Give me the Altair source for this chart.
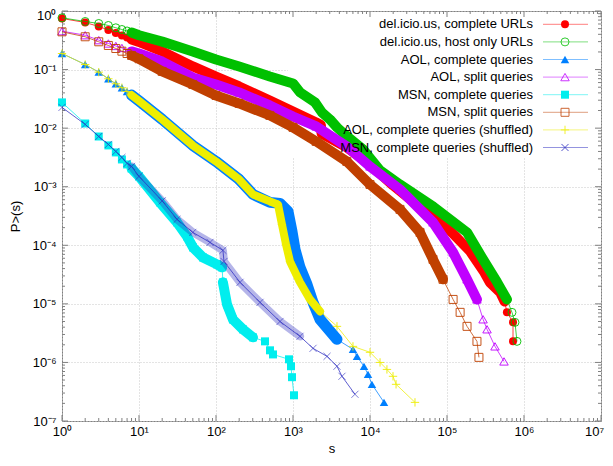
import altair as alt
import pandas as pd

names = [
    "del.icio.us, complete URLs",
    "del.icio.us, host only URLs",
    "AOL, complete queries",
    "AOL, split queries",
    "MSN, complete queries",
    "MSN, split queries",
    "AOL, complete queries (shuffled)",
    "MSN, complete queries (shuffled)",
]
colors = ["#ff0000", "#00c000", "#0080ff", "#c000ff", "#00eeee", "#c04000", "#eeee00", "#2a2ac0"]

# del.icio.us, complete URLs
red_s = [1, 2, 3, 4, 5, 6, 7, 8, 10, 20, 50, 100, 200, 500, 1000, 2000, 2300, 2350, 5000, 1e4, 2e4,
         5e4, 1e5, 2e5, 3e5, 3.6e5, 4.9e5, 5.6e5, 6.0e5, 7.2e5, 7.2e5]
red_p = [0.745, 0.637, 0.544, 0.474, 0.421, 0.382, 0.353, 0.326, 0.296, 0.204, 0.113, 0.0762, 0.0515,
         0.0297, 0.0193, 0.0125, 0.01135, 0.0081, 0.00468, 0.0024, 0.00105, 3.94e-4, 2.02e-4, 7.87e-5,
         3.59e-5, 2.33e-5, 1.57e-5, 1.1e-5, 7.2e-6, 4.83e-6, 2.29e-6]
# del.icio.us, host only URLs
green_s = [1, 2, 3, 4, 5, 6, 7, 8, 10, 20, 50, 100, 200, 500, 1000, 1236, 1932, 2380, 3020, 3730, 5040,
           8110, 1.35e4, 2.45e4, 6.58e4, 1.82e5, 2.94e5, 4.47e5, 6.01e5, 6.98e5, 7.64e5, 8.1e5]
green_p = [0.765, 0.662, 0.612, 0.566, 0.517, 0.483, 0.456, 0.43, 0.385, 0.30, 0.204, 0.149, 0.113, 0.0762,
           0.0579, 0.0407, 0.0275, 0.0185, 0.0141, 0.0103, 0.00722, 0.00433, 0.0019, 0.00109, 4.61e-4,
           1.66e-4, 5.75e-5, 2.34e-5, 1.19e-5, 7.16e-6, 4.83e-6, 2.29e-6]
# AOL, complete queries
blue_s = [1, 2, 3, 4, 5, 6, 7, 8, 10, 20, 50, 100, 200, 302, 503, 678, 861, 970, 1062, 1233, 1520, 1820,
          2243, 3726, 6010, 6780, 8360, 9420, 1.06e4, 1.52e4]
blue_p = [0.188, 0.122, 0.0903, 0.0697, 0.0573, 0.049, 0.0423, 0.0367, 0.0292, 0.0141, 0.00507, 0.0027,
          0.00133, 7.4e-4, 5.4e-4, 5.19e-4, 3.79e-4, 1.73e-4, 8.5e-5, 4.2e-5, 2.15e-5, 1.06e-5, 5.44e-6,
          2.48e-6, 1.67e-6, 1.27e-6, 8.57e-7, 6.26e-7, 4.23e-7, 2.08e-7]
# AOL, split queries
magenta_s = [1, 2, 3, 4, 5, 6, 8, 10, 20, 50, 100, 200, 500, 1000, 2000, 5000, 1e4, 2.45e4, 6.58e4, 1.2e5,
             1.82e5, 2.45e5, 2.94e5, 3.31e5, 4.2e5, 5.5e5]
magenta_p = [0.452, 0.386, 0.318, 0.279, 0.253, 0.234, 0.204, 0.188, 0.137, 0.0733, 0.0557, 0.0407, 0.0244,
             0.0158, 0.0107, 0.00487, 0.00222, 9.0e-4, 2.46e-4, 7.57e-5, 2.62e-5, 1.19e-5, 5.45e-6,
             3.68e-6, 1.88e-6, 1.04e-6]
# MSN, complete queries
cyan_s = [1, 2, 3, 4, 5, 6, 7, 8, 10, 18.7, 31.2, 42, 50.3, 67.8, 103, 120, 123, 139, 166, 224, 302, 433,
          503, 550, 887, 942, 970, 1030]
cyan_p = [0.0275, 0.012, 0.0072, 0.00507, 0.00385, 0.00292, 0.0024, 0.00205, 0.0015, 5.4e-4, 2.46e-4,
          1.42e-4, 9.2e-5, 6.2e-5, 4.72e-5, 4.2e-5, 2.33e-5, 9.8e-6, 5.4e-6, 3.67e-6, 2.68e-6, 2.29e-6,
          1.61e-6, 1.37e-6, 1.13e-6, 8.6e-7, 5.6e-7, 2.75e-7]
# MSN, split queries
brown_s = [1, 2, 3, 4, 5, 6, 7, 8, 10, 20, 50, 100, 200, 500, 1000, 2000, 5000, 1e4, 2.45e4, 4.46e4,
           6.58e4, 8.87e4, 1.2e5, 1.48e5, 1.82e5, 2.45e5, 2.6e5]
brown_p = [0.441, 0.363, 0.298, 0.258, 0.229, 0.206, 0.188, 0.174, 0.153, 0.0929, 0.0557, 0.0361, 0.0264,
           0.0165, 0.0103, 0.00593, 0.0027, 0.00109, 4.1e-4, 1.66e-4, 5.74e-5, 2.62e-5, 1.19e-5, 7.16e-6,
           4.13e-6, 2.29e-6, 1.22e-6]
# AOL, complete queries (shuffled)
yellow_s = [1, 2, 3, 4, 5, 6, 7, 8, 10, 20, 50, 100, 200, 302, 503, 638, 719, 811, 914, 1233, 1663, 2243,
            3726, 6010, 1e4, 1.35e4, 1.66e4, 1.99e4, 2.18e4, 3.84e4]
yellow_p = [0.188, 0.122, 0.0903, 0.0697, 0.0573, 0.049, 0.0423, 0.0367, 0.0292, 0.0141, 0.00507, 0.0027,
            0.00133, 7.4e-4, 5.61e-4, 4.99e-4, 2.27e-4, 1.04e-4, 5.3e-5, 2.33e-5, 1.19e-5, 7.45e-6,
            4.13e-6, 1.88e-6, 1.49e-6, 1.0e-6, 7.6e-7, 5.8e-7, 4.23e-7, 2.08e-7]
# MSN, complete queries (shuffled)
navy_s = [1, 2, 3, 4, 5, 6, 7, 8, 10, 20, 31.2, 50, 83.6, 123, 127, 205, 373, 678, 1233, 1820, 2767, 3726,
          4325, 6380]
navy_p = [0.0226, 0.0116, 0.0072, 0.00527, 0.004, 0.00316, 0.0025, 0.00222, 0.0015, 5.73e-4, 2.77e-4,
          1.66e-4, 1.12e-4, 8.2e-5, 5.3e-5, 2.33e-5, 1.06e-5, 5.0e-6, 2.79e-6, 1.74e-6, 1.27e-6, 8.6e-7,
          5.8e-7, 2.86e-7]

series_s = [red_s, green_s, blue_s, magenta_s, cyan_s, brown_s, yellow_s, navy_s]
series_p = [red_p, green_p, blue_p, magenta_p, cyan_p, brown_p, yellow_p, navy_p]

# dense (overlapping-marker) stretch of each curve
band_lo = [8, 8, 8, 8, 8, 8, 8, 8]
band_hi = [5.6e5, 6.01e5, 3726, 2.45e5, 302, 8.87e4, 2243, 1233]
band_breaks = [[], [], [], [], [123], [], [], []]

x_ticks_major = [1, 1e1, 1e2, 1e3, 1e4, 1e5, 1e6, 1e7]
y_ticks_major = [1e-7, 1e-6, 1e-5, 1e-4, 1e-3, 1e-2, 1e-1, 1]
x_ticks_minor = [m * 10 ** k for k in range(0, 7) for m in range(2, 10)]
y_ticks_minor = [m * 10.0 ** (-k) for k in range(1, 8) for m in range(2, 10)]

W, H = 539, 410
FONT = "Liberation Sans"

shapes = ["circle", "circle", "triangle-up", "triangle-up", "square", "square",
          "M-1,0L1,0M0,-1L0,1", "M-1,-1L1,1M-1,1L1,-1"]
filled = [True, False, True, False, True, False, False, False]
sizes = [64, 64, 72, 72, 64, 64, 70, 50]
band_w = [10, 10, 11, 10, 10, 10, 8, 8]
band_op = [1, 1, 1, 1, 1, 1, 1, 0.35]

sup_expr = ("'10' + (round(log(datum.value)/LN10) < 0 ? '\u207b' : '') + "
            "substring('\u2070\u00b9\u00b2\u00b3\u2074\u2075\u2076\u2077\u2078\u2079', "
            "abs(round(log(datum.value)/LN10)), abs(round(log(datum.value)/LN10)) + 1)")

x_enc = alt.X("s:Q", title="s",
              scale=alt.Scale(type="log", domain=[1, 1e7]),
              axis=alt.Axis(values=x_ticks_major, labelExpr=sup_expr, ticks=False, tickSize=0,
                            domain=False, grid=True, gridColor="#c8c8c8", gridDash=[1, 2],
                            labelFlush=False, labelOverlap=False, labelBound=False, labelPadding=4,
                            labelOffset=alt.condition("datum.value >= 1e7", alt.value(-7), alt.value(0)),
                            titleY=27, titleBaseline="middle"))
y_enc = alt.Y("P:Q", title="P>(s)",
              scale=alt.Scale(type="log", domain=[1e-7, 1]),
              axis=alt.Axis(values=y_ticks_major, labelExpr=sup_expr, ticks=False, tickSize=0,
                            domain=False, grid=True, gridColor="#c8c8c8", gridDash=[1, 2],
                            labelFlush=False, labelOverlap=False, labelPadding=6,
                            labelOffset=alt.condition("datum.value >= 1", alt.value(4), alt.value(0)),
                            titleX=-47, titleY=H / 2, titleAngle=270, titleBaseline="middle"))

layers = []

# opaque key box (hides grid behind the key)
layers.append(alt.Chart(pd.DataFrame({"a": [0]})).mark_rect(color="white").encode(
    x=alt.value(226), x2=alt.value(538), y=alt.value(1), y2=alt.value(146)))

# inward ticks on all four sides
tick_col = "#808080"
for vals, ln in [(x_ticks_major, 6), (x_ticks_minor, 3)]:
    d = pd.DataFrame({"s": vals})
    layers.append(alt.Chart(d).mark_rule(color=tick_col).encode(x=x_enc, y=alt.value(H), y2=alt.value(H - ln)))
    layers.append(alt.Chart(d).mark_rule(color=tick_col).encode(x=x_enc, y=alt.value(0), y2=alt.value(ln)))
for vals, ln in [(y_ticks_major, 6), (y_ticks_minor, 3)]:
    d = pd.DataFrame({"P": vals})
    layers.append(alt.Chart(d).mark_rule(color=tick_col).encode(y=y_enc, x=alt.value(0), x2=alt.value(ln)))
    layers.append(alt.Chart(d).mark_rule(color=tick_col).encode(y=y_enc, x=alt.value(W), x2=alt.value(W - ln)))

for i in range(8):
    df = pd.DataFrame({"s": series_s[i], "P": series_p[i]})
    df["idx"] = range(len(df))
    band = df[(df.s >= band_lo[i]) & (df.s <= band_hi[i])].copy()
    band["seg"] = [sum(1 for b in band_breaks[i] if sv >= b) for sv in band.s]
    col = colors[i]
    layers.append(alt.Chart(band).mark_line(strokeWidth=band_w[i], strokeCap="round", strokeJoin="round",
                                            color=col, opacity=band_op[i]).encode(
        x=x_enc, y=y_enc, detail="seg:N", order="idx:Q"))
    layers.append(alt.Chart(df).mark_line(strokeWidth=1, color=col, opacity=0.75).encode(
        x=x_enc, y=y_enc, order="idx:Q"))
    if filled[i]:
        pm = alt.Chart(df).mark_point(shape=shapes[i], size=sizes[i], filled=True, color=col, opacity=1)
    else:
        pm = alt.Chart(df).mark_point(shape=shapes[i], size=sizes[i], filled=False, color=col,
                                      strokeWidth=1, opacity=0.9 if i != 7 else 0.6)
    layers.append(pm.encode(x=x_enc, y=y_enc))

# key
leg = pd.DataFrame({"name": names, "row": list(range(8))})
for i in range(8):
    d = leg.iloc[[i]]
    base = alt.Chart(d).transform_calculate(ly="13.3 + 17.6 * datum.row")
    ly = alt.Y("ly:Q", scale=None, axis=None)
    layers.append(base.mark_text(align="right", baseline="middle", font=FONT, fontSize=13, color="black").encode(
        x=alt.value(471), y=ly, text="name:N"))
    layers.append(base.mark_rule(color=colors[i], strokeWidth=1, opacity=0.5).encode(
        x=alt.value(481), x2=alt.value(526), y=ly))
    if filled[i]:
        pm = base.mark_point(shape=shapes[i], size=sizes[i], filled=True, color=colors[i], opacity=1)
    else:
        pm = base.mark_point(shape=shapes[i], size=sizes[i], filled=False, color=colors[i],
                             strokeWidth=1, opacity=0.8)
    layers.append(pm.encode(x=alt.value(503), y=ly))

chart = alt.layer(*layers).properties(
    width=W, height=H,
    autosize=alt.AutoSizeParams(type="none"),
    padding={"left": 54, "top": 3, "right": 4, "bottom": 37},
).configure_view(stroke="#808080", strokeWidth=1).configure_axis(
    labelFont=FONT, labelFontSize=13, labelColor="black",
    titleFont=FONT, titleFontSize=13, titleFontWeight="normal", titleColor="black",
)

chart.save("out.html", embed_options={"renderer": "svg", "actions": False})
